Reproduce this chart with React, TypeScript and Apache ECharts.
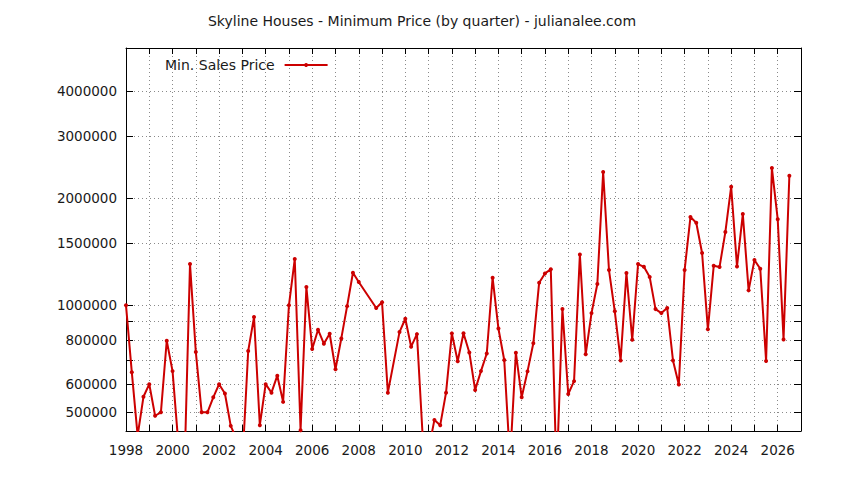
import React, { useEffect, useRef } from "react";
import * as echarts from "echarts";

const CHART_TITLE = "Skyline Houses - Minimum Price (by quarter) - julianalee.com";
const SERIES_NAME = "Min. Sales Price";
const LINE_COLOR = "#cc0000";
const FONT = "DejaVu Sans";

// quarter (as decimal year) of each sale period
const quarters = [
  1998.0, 1998.25, 1998.5, 1998.75, 1999.0, 1999.25, 1999.5, 1999.75,
  2000.0, 2000.25, 2000.5, 2000.75, 2001.0, 2001.25, 2001.5, 2001.75,
  2002.0, 2002.25, 2002.5, 2002.75, 2003.0, 2003.25, 2003.5, 2003.75,
  2004.0, 2004.25, 2004.5, 2004.75, 2005.0, 2005.25, 2005.5, 2005.75,
  2006.0, 2006.25, 2006.5, 2006.75, 2007.0, 2007.25, 2007.5, 2007.75,
  2008.0, 2008.75, 2009.0, 2009.25, 2009.75,
  2010.0, 2010.25, 2010.5, 2010.75, 2011.0, 2011.25, 2011.5, 2011.75,
  2012.0, 2012.25, 2012.5, 2012.75, 2013.0, 2013.25, 2013.5, 2013.75,
  2014.0, 2014.25, 2014.5, 2014.75, 2015.0, 2015.25, 2015.5, 2015.75,
  2016.0, 2016.25, 2016.5, 2016.75, 2017.0, 2017.25, 2017.5, 2017.75,
  2018.0, 2018.25, 2018.5, 2018.75, 2019.0, 2019.25, 2019.5, 2019.75,
  2020.0, 2020.25, 2020.5, 2020.75, 2021.0, 2021.25, 2021.5, 2021.75,
  2022.0, 2022.25, 2022.5, 2022.75, 2023.0, 2023.25, 2023.5, 2023.75,
  2024.0, 2024.25, 2024.5, 2024.75, 2025.0, 2025.25, 2025.5, 2025.75,
  2026.0, 2026.25, 2026.5,
];

// minimum sale price in that quarter
const minPrices = [
  1000000, 648000, 430000, 553000, 600000, 489000, 500000, 795000,
  653000, 407000, 323000, 1307000, 739000, 500000, 500000, 551000,
  600000, 565000, 458000, 420000, 360000, 744000, 927000, 460000,
  600000, 568000, 634000, 535000, 1000000, 1350000, 445000, 1126000,
  754000, 854000, 780000, 832000, 661000, 807000, 995000, 1235000,
  1163000, 983000, 1020000, 568000, 841000,
  917000, 765000, 830000, 423000, 392000, 476000, 460000, 568000,
  834000, 696000, 835000, 737000, 578000, 653000, 732000, 1196000,
  861000, 702000, 365000, 736000, 551000, 652000, 782000, 1158000,
  1230000, 1263000, 330000, 976000, 563000, 612000, 1390000, 728000,
  951000, 1148000, 2372000, 1257000, 962000, 700000, 1233000, 800000,
  1307000, 1284000, 1201000, 976000, 951000, 983000, 700000, 599000,
  1257000, 1772000, 1708000, 1404000, 856000, 1292000, 1282000, 1608000,
  2157000, 1287000, 1807000, 1102000, 1341000, 1268000, 697000, 2434000,
  1746000, 802000, 2316000,
];

const yTickValues = [500000, 600000, 700000, 800000, 900000, 1000000, 1500000, 2000000, 3000000, 4000000];
const yLabelValues = [500000, 600000, 800000, 1000000, 1500000, 2000000, 3000000, 4000000];

const X_MIN = 1998;
const X_MAX = 2027;
const Y_MIN = 443000;
const Y_MAX = 5300000;

const gridDots = { color: "#8a8a8a", width: 1, type: [1, 3] as number[] };

const PriceChart: React.FC = () => {
  const chartRef = useRef<HTMLDivElement>(null);

  useEffect(() => {
    if (!chartRef.current) return;
    const myChart = echarts.init(chartRef.current, null, { renderer: "svg" });

    const xCommon = {
      type: "value" as const,
      min: X_MIN,
      max: X_MAX,
      interval: 1,
      axisLine: { show: true, onZero: false, lineStyle: { color: "#000", width: 1 } },
      axisTick: { show: true, inside: true, length: 6, lineStyle: { color: "#000" } },
    };
    const yCommon = {
      type: "log" as const,
      logBase: 10,
      min: Y_MIN,
      max: Y_MAX,
      axisLine: { show: true, onZero: false, lineStyle: { color: "#000", width: 1 } },
      axisTick: { show: true, inside: true, length: 7, customValues: yTickValues, lineStyle: { color: "#000" } },
    };

    myChart.setOption({
      animation: false,
      backgroundColor: "#fff",
      title: {
        text: CHART_TITLE,
        left: "center",
        top: 9,
        textStyle: { fontFamily: FONT, fontSize: 14, fontWeight: "normal", color: "#1a1a1a" },
      },
      legend: {
        data: [SERIES_NAME],
        left: 160,
        top: 53,
        align: "right",
        itemWidth: 43,
        itemHeight: 5,
        textStyle: { fontFamily: FONT, fontSize: 14, color: "#1a1a1a", padding: [0, 5, 0, 0] },
      },
      grid: { left: 126, right: 43, top: 48, bottom: 49, containLabel: false },
      xAxis: [
        {
          ...xCommon,
          position: "bottom",
          axisLabel: {
            margin: 12,
            fontFamily: FONT,
            fontSize: 13.5,
            color: "#1a1a1a",
            formatter: (v: number) => (v % 2 === 0 ? String(v) : ""),
          },
          splitLine: { show: true, lineStyle: gridDots },
        },
        {
          ...xCommon,
          position: "top",
          axisLabel: { show: false },
          splitLine: { show: false },
        },
      ],
      yAxis: [
        {
          ...yCommon,
          position: "left",
          axisLabel: {
            margin: 9,
            fontFamily: FONT,
            fontSize: 13.5,
            color: "#1a1a1a",
            customValues: yLabelValues,
            formatter: (v: number) => String(Math.round(v)),
          },
          splitLine: { show: true, lineStyle: gridDots },
        },
        {
          ...yCommon,
          position: "right",
          axisLabel: { show: false },
          splitLine: { show: false },
        },
      ],
      series: [
        {
          name: SERIES_NAME,
          type: "line",
          xAxisIndex: 0,
          yAxisIndex: 0,
          data: quarters.map((q, i) => [q, minPrices[i]]),
          symbol: "circle",
          symbolSize: 4,
          clip: true,
          lineStyle: { color: LINE_COLOR, width: 2 },
          itemStyle: { color: LINE_COLOR },
          emphasis: { disabled: true },
        },
      ],
    });

    return () => {
      myChart.dispose();
    };
  }, []);

  return (
    <div
      ref={chartRef}
      style={{ position: "fixed", left: 0, top: 0, width: "844px", height: "480px" }}
    />
  );
};

const App: React.FC = () => <PriceChart />;

export default App;
